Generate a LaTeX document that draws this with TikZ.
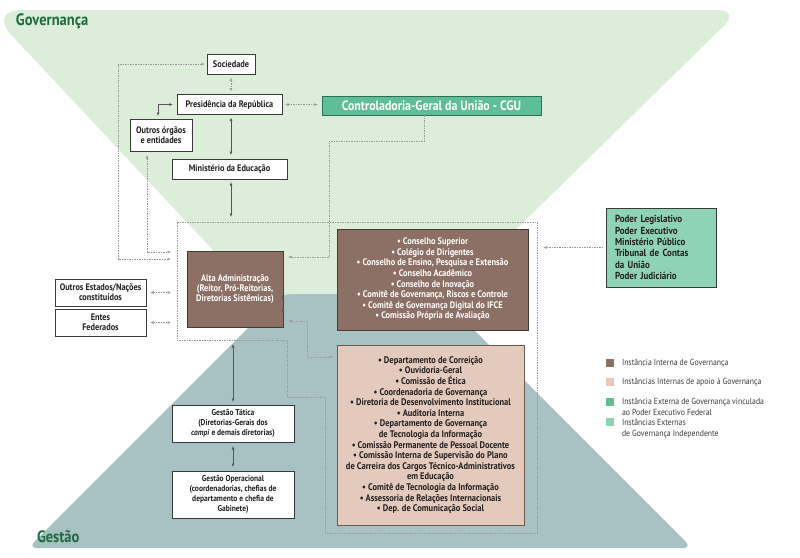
\documentclass[tikz,border=0pt]{standalone}
\usepackage{fontspec}
\setmainfont{PT Sans}[FakeStretch=0.88]
\usetikzlibrary{arrows.meta,calc}
\definecolor{govgreen}{HTML}{DCEDD9}
\definecolor{gestgray}{HTML}{A8C1C3}
\definecolor{brownbox}{HTML}{8C6F65}
\definecolor{brownline}{HTML}{4A3A34}
\definecolor{beigebox}{HTML}{E3CABD}
\definecolor{beigeline}{HTML}{6A5A50}
\definecolor{cgugreen}{HTML}{5DBE97}
\definecolor{cguline}{HTML}{2F6F55}
\definecolor{indepgreen}{HTML}{8FD3B7}
\definecolor{titlegreen}{HTML}{1D6C3E}
\definecolor{boxline}{HTML}{3A3A3A}
\definecolor{textdark}{HTML}{231F20}
\definecolor{arrgray}{HTML}{555555}
\definecolor{dotgray}{HTML}{9A9A9A}
\definecolor{legtext}{HTML}{3A3A3A}
\tikzset{
  every node/.style={inner sep=0pt, outer sep=0pt},
  wbox/.style={draw=boxline, fill=white, line width=0.8pt, align=center, text=textdark,
    font=\bfseries\fontsize{8.5}{10}\selectfont},
  wboxl/.style={wbox, font=\bfseries\fontsize{9.4}{10}\selectfont},
  brbox/.style={draw=brownline, fill=brownbox, line width=0.8pt, align=center, text=white,
    font=\bfseries\fontsize{9.5}{10.6}\selectfont},
  bgbox/.style={draw=beigeline, fill=beigebox, line width=0.8pt, align=center, text=textdark,
    font=\bfseries\fontsize{9.6}{10.6}\selectfont},
  solidarr/.style={draw=arrgray, line width=0.8pt,
    {Latex[length=3.5pt,width=3pt]}-{Latex[length=3.5pt,width=3pt]}},
  solidone/.style={draw=arrgray, line width=0.8pt, -{Latex[length=3.5pt,width=3pt]}},
  dotarr/.style={draw=dotgray, line width=0.7pt, dash pattern=on 1.5pt off 1pt,
    {Latex[length=3.5pt,width=3pt]}-{Latex[length=3.5pt,width=3pt]}},
  dotone/.style={draw=dotgray, line width=0.7pt, dash pattern=on 1.5pt off 1pt,
    -{Latex[length=3.5pt,width=3pt]}},
  grpline/.style={draw=dotgray, line width=0.7pt, dash pattern=on 1.5pt off 1pt},
  legsq/.style={minimum width=8, minimum height=8},
  legtxt/.style={anchor=west, align=left, text=legtext, font=\fontsize{8.8}{10.8}\selectfont},
  titletxt/.style={anchor=west, text=titlegreen, font=\bfseries\fontsize{16.5}{18}\selectfont},
}
\begin{document}
\begin{tikzpicture}[x=1pt,y=-1pt]
\useasboundingbox (0,0) rectangle (800,557);
% backgrounds
\fill[govgreen] (300,10) [rounded corners=22] -- (740,10) -- (447,297) -- (257,297) [rounded corners=34] -- (-12,10) [rounded corners=22] -- cycle;
\fill[gestgray, rounded corners=9] (360,294) -- (438,294) -- (692,548) -- (28,548) -- (282,294) -- cycle;
\node[titletxt] (govlbl) at (16,21) {Governança};
\node[titletxt] (gestlbl) at (37,537) {Gestão};

% group region
\coordinate (g1) at (177,222);
\coordinate (g2) at (537,222);
\coordinate (g3) at (537,533);
\coordinate (g4) at (325,533);
\coordinate (g5) at (325,397);
\coordinate (g6) at (287,397);
\coordinate (g7) at (287,340);
\coordinate (g8) at (177,340);
\draw[grpline] (g1) -- (g2) -- (g3) -- (g4) -- (g5) -- (g6) -- (g7) -- (g8) -- cycle;

% nodes
\node[wboxl, minimum width=48, minimum height=20] (soc) at (231,64) {Sociedade};
\node[wboxl, minimum width=105, minimum height=20] (pres) at (229.5,104.5) {Presidência da República};
\node[draw=cguline, fill=cgugreen, line width=0.8pt, text=white, minimum width=219, minimum height=19,
  font=\bfseries\fontsize{13.5}{15}\selectfont] (cgu) at (431.5,105.5) {Controladoria-Geral da União - CGU};
\node[wboxl, minimum width=62, minimum height=32] (outros) at (161,135) {Outros órgãos\\e entidades};
\node[wboxl, minimum width=115, minimum height=20] (mec) at (229.5,169) {Ministério da Educação};
\node[brbox, minimum width=96, minimum height=76, font=\bfseries\fontsize{9.5}{10}\selectfont] (alta) at (235,289)
  {Alta Administração\\(Reitor, Pró-Reitorias,\\Diretorias Sistêmicas)};
\node[brbox, minimum width=191, minimum height=101] (cons) at (432.5,279.5)
  {• Conselho Superior\\• Colégio de Dirigentes\\• Conselho de Ensino, Pesquisa e Extensão\\• Conselho Acadêmico\\• Conselho de Inovação\\• Comitê de Governança, Riscos e Controle\\• Comitê de Governança Digital do IFCE\\• Comissão Própria de Avaliação};
\node[wboxl, minimum width=91, minimum height=27] (estados) at (100.5,292.5) {Outros Estados/Nações\\constituídos};
\node[wboxl, minimum width=91, minimum height=27] (entes) at (100.5,322.5) {Entes\\Federados};
\node[bgbox, minimum width=187, minimum height=180] (apoio) at (430.5,435)
  {• Departamento de Correição\\• Ouvidoria-Geral\\• Comissão de Ética\\• Coordenadoria de Governança\\• Diretoria de Desenvolvimento Institucional\\• Auditoria Interna\\• Departamento de Governança\\de Tecnologia da Informação\\• Comissão Permanente de Pessoal Docente\\• Comissão Interna de Supervisão do Plano\\de Carreira dos Cargos Técnico-Administrativos\\em Educação\\• Comitê de Tecnologia da Informação\\• Assessoria de Relações Internacionais\\• Dep. de Comunicação Social};
\node[wbox, minimum width=122, minimum height=37] (tatica) at (233,423.5)
  {Gestão Tática\\(Diretorias-Gerais dos\\\textit{campi} e demais diretorias)};
\node[wbox, minimum width=122, minimum height=47] (oper) at (233,494.5)
  {Gestão Operacional\\(coordenadorias, chefias de\\departamento e chefia de\\Gabinete)};
\node[draw=boxline, fill=indepgreen, line width=0.8pt, align=left, text=textdark, text width=92,
  minimum width=110, minimum height=79, font=\bfseries\fontsize{10.2}{11.3}\selectfont] (poder) at (661,247.5)
  {Poder Legislativo\\Poder Executivo\\Ministério Público\\Tribunal de Contas\\da União\\Poder Judiciário};

% connectors
\coordinate (gsoc) at (177,259);
\coordinate (gout) at (177,252);
\draw[dotarr, shorten <=3.5, shorten >=3] (soc.south) -- (soc.south |- pres.north);
\draw[solidarr, shorten <=3, shorten >=4] (pres.south -| soc.south) -- (mec.north -| soc.south);
\draw[solidarr, shorten <=3, shorten >=5] (mec.south -| soc.south) -- (g1 -| soc.south);
\draw[dotarr, shorten <=3, shorten >=4] (pres.east) -- (pres.east -| cgu.west);
\draw[solidarr, shorten <=4, shorten >=3] (pres.west) -| ([xshift=-3pt]outros.north);
\draw[dotarr, shorten <=2, shorten >=6] (soc.west) -| (118,259) -- (gsoc);
\draw[dotarr, shorten <=4, shorten >=6] ([xshift=-14pt]outros.south) -- (147,252) -- (gout);
\draw[dotone, shorten >=5] ([xshift=-7.5pt]cgu.south) -- (424,141) -- (329,141) -- (329,257) -- (alta.east |- 0,257);
\draw[solidarr, shorten <=5, shorten >=4] ($(alta.east)+(0,15)$) -- ($(alta.east)+(0,15)$ -| cons.west);
\draw[dotarr, shorten <=5, shorten >=4] ($(alta.east)+(0,32)$) -- (307,321) -- (307,357) -- (apoio.west |- 0,357);
\draw[dotarr, shorten <=4, shorten >=6] (estados.east) -- (estados.east -| g1);
\draw[dotarr, shorten <=4, shorten >=6] (entes.east) -- (entes.east -| g1);
\draw[solidarr, shorten <=4, shorten >=3] (g8 -| tatica.north) -- (tatica.north);
\draw[solidarr, shorten <=4, shorten >=4] (tatica.south) -- (oper.north);
\draw[dotone, shorten <=3, shorten >=6] (poder.west) -- (poder.west -| g2);

% legend
\node[legsq, fill=brownbox] (lq1) at (610,363) {};
\node[legtxt] (lt1) at (622,363) {Instância Interna de Governança};
\node[legsq, fill=beigebox] (lq2) at (610,382) {};
\node[legtxt] (lt2) at (622,382) {Instâncias Internas de apoio à Governança};
\node[legsq, fill=cgugreen] (lq3) at (610,402) {};
\node[legtxt] (lt3) at (622,407) {Instância Externa de Governança vinculada\\ao Poder Executivo Federal};
\node[legsq, fill=indepgreen] (lq4) at (610,422) {};
\node[legtxt] (lt4) at (622,428.5) {Instâncias Externas\\de Governança Independente};
\end{tikzpicture}
\end{document}
